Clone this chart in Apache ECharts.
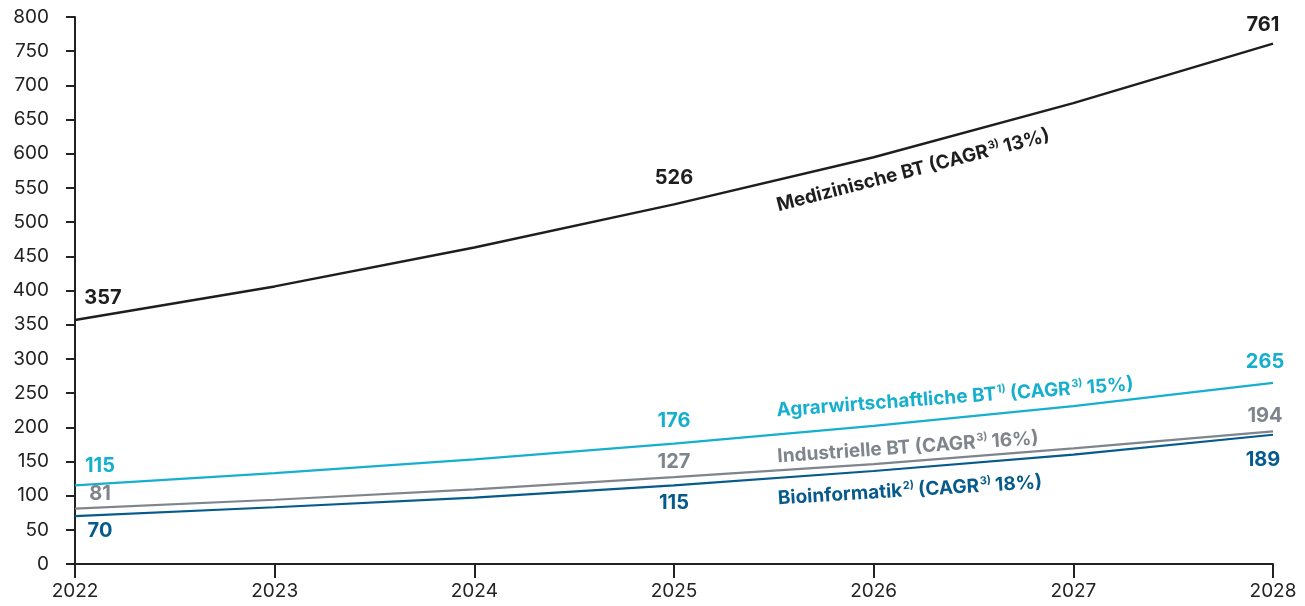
<!DOCTYPE html>
<html>
<head>
<meta charset="utf-8">
<style>
  html, body { margin: 0; padding: 0; background: #fff; }
  #chart { width: 1305px; height: 606px; }
</style>
<script src="https://cdn.jsdelivr.net/npm/echarts@6/dist/echarts.min.js"></script>
</head>
<body>
<div id="chart"></div>
<script>
// Years on the x axis
const years = ['2022', '2023', '2024', '2025', '2026', '2027', '2028'];

// Market size per segment (values per year)
const medizin   = [357, 406, 463, 526, 595, 674, 761];
const agrar     = [115, 133, 153, 176, 202, 231, 265];
const industrie = [81, 94, 109, 127, 146, 169, 194];
const bioinfo   = [70, 83, 97, 115, 136, 160, 189];

// Points that carry a value label
const labelled = [0, 3, 6];

// Series names shown along the lines
const nameMedizin   = 'Medizinische BT';
const nameAgrar     = 'Agrarwirtschaftliche BT';
const nameIndustrie = 'Industrielle BT';
const nameBioinfo   = 'Bioinformatik';
const cagrMedizin = '13%', cagrAgrar = '15%', cagrIndustrie = '16%', cagrBioinfo = '18%';

const FONT = 'Inter, "Noto Sans", sans-serif';
const C_BLACK = '#1e1e1e', C_CYAN = '#17afce', C_GRAY = '#7e858c', C_BLUE = '#065a8c';

// Label offsets [dx, dy] for the labelled points of each series
const offsets = {
  medizin:   [[28, -22], [0, -26], [-10, -19]],
  agrar:     [[25, -19], [0, -23], [-8, -21]],
  industrie: [[25, -15], [0, -15], [-8, -15]],
  bioinfo:   [[25, 15], [0, 18], [-10, 25]]
};

function buildData(values, offs, color) {
  return values.map((v, i) => {
    const k = labelled.indexOf(i);
    if (k < 0) return { value: v, label: { show: false } };
    return {
      value: v,
      label: {
        show: true,
        position: 'inside',
        offset: offs[k],
        color: color,
        fontFamily: FONT,
        fontWeight: 'bold',
        fontSize: 20
      }
    };
  });
}

function lineSeries(name, values, offs, color, width) {
  return {
    name: name,
    type: 'line',
    data: buildData(values, offs, color),
    symbol: 'circle',
    symbolSize: 1,
    showSymbol: true,
    itemStyle: { color: 'rgba(0,0,0,0)', borderWidth: 0 },
    lineStyle: { color: color, width: width },
    emphasis: { disabled: true },
    silent: true,
    z: 3
  };
}

const chart = echarts.init(document.getElementById('chart'), null, { renderer: 'canvas' });

// Rich text pieces for the series name tags (zrender style keys)
const supStyle = (color) => ({
  fontSize: 11, fontWeight: 'bold', fontFamily: FONT, fill: color,
  verticalAlign: 'top', padding: [0, 4, 9, 1]
});
const mainStyle = (color) => ({
  fontSize: 19, fontWeight: 'bold', fontFamily: FONT, fill: color, verticalAlign: 'bottom'
});

function seriesTag(x, y, deg, color, parts) {
  return {
    type: 'text',
    x: x, y: y,
    rotation: deg * Math.PI / 180,
    silent: true,
    z: 10,
    style: {
      text: parts,
      fill: color,
      align: 'center',
      verticalAlign: 'middle',
      rich: { m: mainStyle(color), s: supStyle(color) }
    }
  };
}

chart.setOption({
  animation: false,
  backgroundColor: '#ffffff',
  grid: { left: 75, right: 32, top: 17, bottom: 42, containLabel: false },
  xAxis: {
    type: 'category',
    data: years,
    boundaryGap: false,
    axisLine: { show: true, lineStyle: { color: '#222', width: 2 } },
    axisTick: { show: true, inside: false, length: 14, alignWithLabel: true, lineStyle: { color: '#222', width: 2 } },
    axisLabel: { color: '#222', fontFamily: FONT, fontSize: 19, margin: 18 },
    splitLine: { show: false }
  },
  yAxis: {
    type: 'value',
    min: 0, max: 800, interval: 50,
    axisLine: { show: true, lineStyle: { color: '#222', width: 2 } },
    axisTick: { show: true, inside: false, length: 9, lineStyle: { color: '#222', width: 2 } },
    axisLabel: { color: '#222', fontFamily: FONT, fontSize: 19, margin: 26 },
    splitLine: { show: false }
  },
  series: [
    lineSeries(nameMedizin, medizin, offsets.medizin, C_BLACK, 2.5),
    lineSeries(nameAgrar, agrar, offsets.agrar, C_CYAN, 2.2),
    lineSeries(nameIndustrie, industrie, offsets.industrie, C_GRAY, 2.2),
    lineSeries(nameBioinfo, bioinfo, offsets.bioinfo, C_BLUE, 2.2)
  ],
  graphic: [
    seriesTag(913, 170, 14.5, C_BLACK,
      '{m|' + nameMedizin + ' (CAGR}{s|3)}{m|' + cagrMedizin + ')}'),
    seriesTag(955, 397, 4.2, C_CYAN,
      '{m|' + nameAgrar + '}{s|1)}{m|(CAGR}{s|3)}{m|' + cagrAgrar + ')}'),
    seriesTag(908, 447, 4.0, C_GRAY,
      '{m|' + nameIndustrie + ' (CAGR}{s|3)}{m|' + cagrIndustrie + ')}'),
    seriesTag(910, 490, 3.5, C_BLUE,
      '{m|' + nameBioinfo + '}{s|2)}{m|(CAGR}{s|3)}{m|' + cagrBioinfo + ')}')
  ]
});
</script>
</body>
</html>
